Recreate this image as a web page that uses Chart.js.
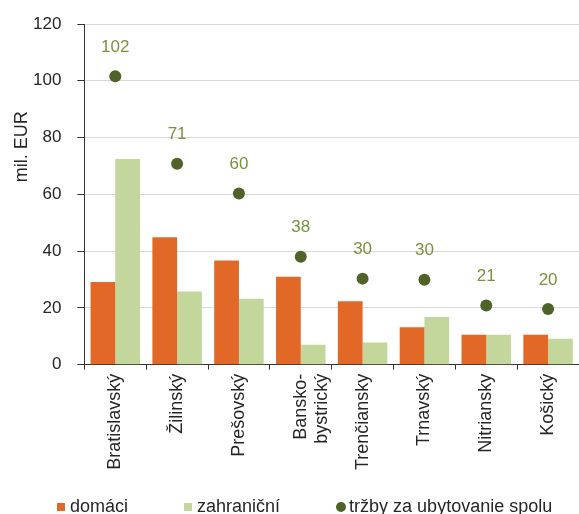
<!DOCTYPE html>
<html lang="sk">
<head>
  <meta charset="UTF-8"/>
  <title>Tržby za ubytovanie podľa krajov</title>
  <script src="https://cdn.jsdelivr.net/npm/chart.js"></script>
  <style>
    * { box-sizing: border-box; margin: 0; padding: 0; }
    body { background: #fff; width: 579px; height: 514px; overflow: hidden; font-family: 'Liberation Sans', Arial, sans-serif; }
    #wrap { position: relative; width: 579px; height: 514px; }
    #chart { display: block; }

    /* legend drawn as html so the item spacing can match */
    #legend {
      position: absolute; left: 57px; top: 497px;
      display: flex; gap: 56px;
      font-size: 18px; line-height: 18px; color: #262626; white-space: nowrap;
    }
    .item { display: flex; align-items: center; }
    .sw { width: 8px; height: 8px; margin-right: 5px; margin-top: 2px; }
    .sw.dot { width: 10px; height: 10px; border-radius: 50%; margin-right: 3px; }
  </style>
</head>
<body>
  <div id="wrap">
    <canvas id="chart" width="579" height="514"></canvas>
    <div id="legend"></div>
  </div>

  <script>
    // regions (kraje), values in mil. EUR
    const regions  = ['Bratislavský', 'Žilinský', 'Prešovský', ['Bansko-', 'bystrický'], 'Trenčiansky', 'Trnavský', 'Nitriansky', 'Košický'];
    const domestic = [29.1, 44.9, 36.7, 31.0, 22.3, 13.2, 10.5, 10.5];
    const foreign  = [72.4, 25.8, 23.2, 7.0, 7.8, 16.8, 10.5, 9.1];
    const total    = [101.6, 70.8, 60.3, 38.0, 30.3, 29.9, 20.8, 19.6];
    const seriesNames = ['domáci', 'zahraniční', 'tržby za ubytovanie spolu'];

    const FONT = "'Liberation Sans', Arial, sans-serif";
    const TEXT = '#262626';

    // numbers above the dots
    const pointLabels = {
      id: 'pointLabels',
      afterDatasetsDraw(chart) {
        const meta = chart.getDatasetMeta(2);
        const ctx = chart.ctx;
        ctx.save();
        ctx.font = '17px ' + FONT;
        ctx.fillStyle = '#77933c';
        ctx.textAlign = 'center';
        ctx.textBaseline = 'middle';
        meta.data.forEach((pt, i) => ctx.fillText(Math.round(total[i]), pt.x, pt.y - 29));
        ctx.restore();
      }
    };

    // y axis title, sits above the middle of the axis like in the original
    const yTitle = {
      id: 'yTitle',
      afterDraw(chart) {
        const a = chart.chartArea;
        const ctx = chart.ctx;
        ctx.save();
        ctx.translate(22, a.top + (a.bottom - a.top) * 0.36);
        ctx.rotate(-Math.PI / 2);
        ctx.font = '18px ' + FONT;
        ctx.fillStyle = TEXT;
        ctx.textAlign = 'center';
        ctx.textBaseline = 'middle';
        ctx.fillText('mil. EUR', 0, 0);
        ctx.restore();
      }
    };

    const chart = new Chart(document.getElementById('chart'), {
      type: 'bar',
      data: {
        labels: regions,
        datasets: [
          { label: seriesNames[0], data: domestic, backgroundColor: '#e26828',
            categoryPercentage: 0.8, barPercentage: 1.0 },
          { label: seriesNames[1], data: foreign, backgroundColor: '#c3d69b',
            categoryPercentage: 0.8, barPercentage: 1.0 },
          { type: 'line', label: seriesNames[2], data: total, showLine: false,
            backgroundColor: '#4f6228', borderColor: '#4f6228',
            pointBackgroundColor: '#4f6228', pointBorderColor: '#4f6228',
            pointRadius: 6, pointBorderWidth: 0 }
        ]
      },
      options: {
        responsive: false,
        animation: false,
        layout: { autoPadding: false, padding: { left: 17, right: -2, top: 24, bottom: 40 } },
        plugins: {
          legend: { display: false },
          tooltip: { enabled: false },
          title: { display: false }
        },
        scales: {
          x: {
            offset: true,
            grid: { display: true, offset: true, drawOnChartArea: false, tickLength: 5, tickColor: '#333' },
            border: { color: '#333', width: 1 },
            ticks: { color: TEXT, font: { family: FONT, size: 18 }, minRotation: 90, maxRotation: 90, padding: 4, autoSkip: false }
          },
          y: {
            min: 0, max: 120,
            // top label may stick out over the padding, plot starts right at it
            afterFit(scale) { scale.paddingTop = 0; },
            grid: { color: '#d9d9d9', tickLength: 7, tickColor: '#333' },
            border: { color: '#333', width: 1 },
            ticks: { stepSize: 20, color: TEXT, font: { family: FONT, size: 17 }, padding: 16 }
          }
        }
      },
      plugins: [pointLabels, yTitle]
    });

    // build the legend from the datasets
    const legend = document.getElementById('legend');
    chart.data.datasets.forEach((ds, i) => {
      const item = document.createElement('div');
      item.className = 'item';
      const sw = document.createElement('span');
      sw.className = 'sw' + (i === 2 ? ' dot' : '');
      sw.style.background = ds.backgroundColor;
      const txt = document.createElement('span');
      txt.textContent = ds.label;
      item.appendChild(sw);
      item.appendChild(txt);
      legend.appendChild(item);
    });
  </script>
</body>
</html>
